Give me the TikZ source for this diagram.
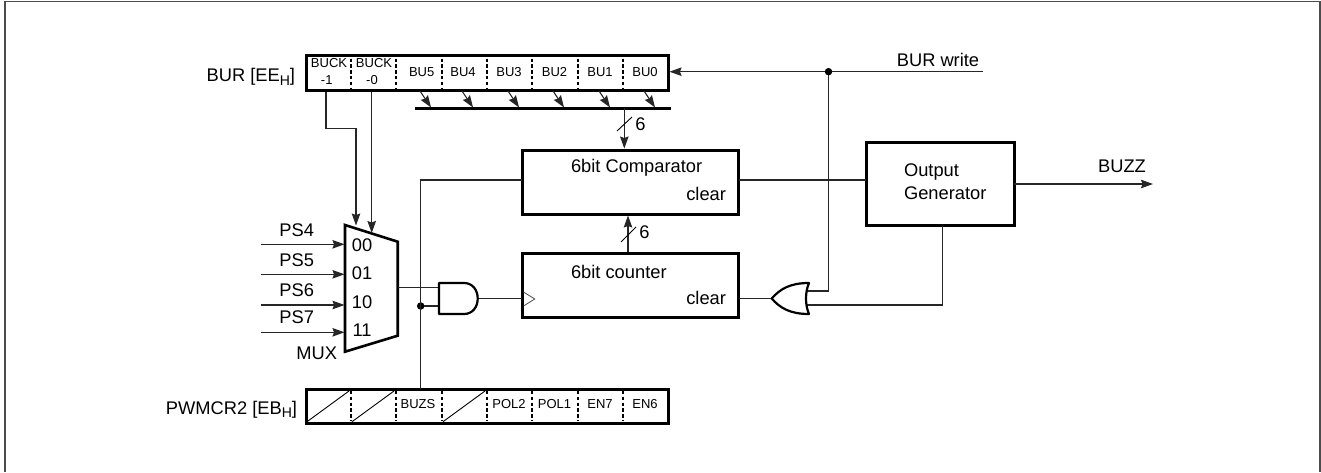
\documentclass[tikz,border=0pt]{standalone}
\usepackage{fontspec}
\setmainfont{Liberation Sans}
\usetikzlibrary{arrows.meta}
\tikzset{
  lab/.style={inner sep=0pt,outer sep=0pt,font=\fontsize{18.3}{21}\selectfont},
  reg/.style={inner sep=0pt,outer sep=0pt,font=\fontsize{13}{15}\selectfont},
  bigbox/.style={draw=black,line width=3pt,fill=white,inner sep=0pt,outer sep=0pt},
  sep/.style={line width=2pt,dash pattern=on 3.4pt off 2.4pt},
  wire/.style={line width=1.1pt,draw=black!85},
  arr/.style={wire,-{Stealth[length=12pt,width=8.5pt,inset=1.5pt]}},
  bar/.style={line width=0.9pt},
  gate/.style={draw=black,line width=2.2pt,fill=white,line join=round},
  dot/.style={circle,fill=black,minimum size=7.5pt,inner sep=0pt,outer sep=0pt},
}
\newcommand{\subH}{\raisebox{-3.5pt}{\fontsize{14}{14}\selectfont H}}
\begin{document}
\begin{tikzpicture}[x=1pt,y=-1pt]
\useasboundingbox (0,0) rectangle (1321,472);
\draw[line width=1.5pt,draw=black!70] (5,472) -- (5,1.7) -- (1320,1.7) -- (1320,472);

% registers
\node[bigbox,minimum width=362pt,minimum height=35pt] (bur) at (487,73.3) {};
\node[bigbox,minimum width=362pt,minimum height=34pt] (pwm) at (487,406) {};
\foreach \x in {351,396,441.7,486.7,532,578,622.7}{
  \draw[sep] (\x,58.5) -- (\x,89);
  \draw[sep] (\x,391) -- (\x,421);
}
\foreach \a/\b in {307/349,352/394,443/485}{
  \draw[bar] (\a,421.7) -- (\b,391);
}
\node[reg] (lb1) at (329,63) {BUCK};
\node[reg] (lb2) at (326.7,80) {-1};
\node[reg] (lb3) at (374,63) {BUCK};
\node[reg] (lb4) at (372,80) {-0};
\node[reg] (lb5) at (421.7,71.7) {BU5};
\node[reg] (lb6) at (463,71.7) {BU4};
\node[reg] (lb7) at (509,71.7) {BU3};
\node[reg] (lb8) at (554.5,71.7) {BU2};
\node[reg] (lb9) at (600,71.7) {BU1};
\node[reg] (lb10) at (645,71.7) {BU0};
\node[reg] (lp1) at (418,404.5) {BUZS};
\node[reg] (lp2) at (509,404.5) {POL2};
\node[reg] (lp3) at (554.5,404.5) {POL1};
\node[reg] (lp4) at (600,404.5) {EN7};
\node[reg] (lp5) at (645,404.5) {EN6};
\node[lab,anchor=base east] (burlab) at (295,81.5) {BUR [EE\subH]};
\node[lab,anchor=base east] (pwmlab) at (297,414) {PWMCR2 [EB\subH]};

% bus
\coordinate (busl) at (415,108.3);
\coordinate (busr) at (671,108.3);
\draw[line width=2.4pt] (busl) -- (busr);
\foreach \x in {420,462,508,553,599,644}{
  \draw[arr] (\x,91) -- (\x+11,107.5);
}

% main boxes
\node[bigbox,minimum width=216.5pt,minimum height=64pt] (cmp) at (630.3,182) {};
\node[bigbox,minimum width=216.5pt,minimum height=64pt] (cnt) at (630.3,285) {};
\node[bigbox,minimum width=148pt,minimum height=83.5pt] (og) at (940,184) {};
\node[lab,anchor=west] (t1) at (571,168) {6bit Comparator};
\node[lab,anchor=east] (t2) at (726,194) {clear};
\node[lab,anchor=west] (t3) at (571,272) {6bit counter};
\node[lab,anchor=east] (t4) at (726,298) {clear};
\node[lab,anchor=west] (t5) at (904,172) {Output};
\node[lab,anchor=west] (t6) at (904,193) {Generator};
\draw[line width=0.8pt,draw=black!70] (523.5,292) -- (534.7,299) -- (523.5,306);

% bus to comparator, counter to comparator
\coordinate (bus6) at (624.3,108.3);
\coordinate (cmpn) at (624.3,148.5);
\coordinate (cnt6) at (628,251.5);
\coordinate (cmp6) at (628,215.5);
\draw[arr] (bus6) -- (cmpn);
\draw[arr] (cnt6) -- (cmp6);
\draw[bar] (617,131) -- (632,117);
\draw[bar] (621,242) -- (636,227);
\node[lab] (n6a) at (640.5,124.5) {6};
\node[lab] (n6b) at (644.5,232) {6};

% MUX
\coordinate (m1) at (345,225);
\coordinate (m2) at (397.7,241.7);
\coordinate (m3) at (397.7,335.7);
\coordinate (m4) at (345,351.7);
\draw[gate,line width=2.6pt,line join=miter] (m1) -- (m2) -- (m3) -- (m4) -- cycle;
\node[lab] (s0) at (362,245) {00};
\node[lab] (s1) at (362,273) {01};
\node[lab] (s2) at (362,302) {10};
\node[lab] (s3) at (362,330) {11};
\node[lab] (mux) at (316.7,353) {MUX};
\foreach \y/\ly/\t in {244.3/230/PS4,274.3/260/PS5,305/290/PS6,332.3/317/PS7}{
  \draw[arr] (261,\y) -- (344.5,\y);
  \node[lab] at (296.7,\ly) {\t};
}

% BUCK selects
\coordinate (bk1) at (326,92);
\coordinate (bk1a) at (326,128.7);
\coordinate (bk1b) at (356,128.7);
\coordinate (bk1c) at (356,225.5);
\coordinate (bk2) at (371.7,92);
\coordinate (bk2c) at (371.7,233);
\draw[arr] (bk1) -- (bk1a) -- (bk1b) -- (bk1c);
\draw[arr] (bk2) -- (bk2c);

% AND gate
\coordinate (ai1) at (439,287.7);
\coordinate (ai2) at (439,306);
\coordinate (ao) at (477.7,298.7);
\coordinate (muxo) at (397.7,287.7);
\node[dot] (jn) at (420.7,306) {};
\coordinate (buzs) at (420.7,389);
\coordinate (cl) at (420.7,180);
\coordinate (cmpw) at (522,180);
\coordinate (cntw) at (522,298.7);
\draw[wire] (buzs) -- (cl) -- (cmpw);
\draw[wire] (muxo) -- (ai1);
\draw[wire] (jn) -- (ai2);
\draw[wire] (ao) -- (cntw);
\draw[gate] (439,283) -- (464,283) .. controls (472.5,283) and (477.7,290) .. (477.7,298.5)
  .. controls (477.7,307) and (472.5,314) .. (464,314) -- (439,314) -- cycle;

% right side
\coordinate (cmpe) at (738.8,180);
\coordinate (ogw) at (866,180);
\draw[wire] (cmpe) -- (ogw);
\coordinate (oge) at (1014,184);
\coordinate (buzzend) at (1153,184);
\draw[arr] (oge) -- (buzzend);
\node[lab] (buzz) at (1122,166) {BUZZ};

\coordinate (wstart) at (983,71.7);
\coordinate (burin) at (669.5,71.7);
\draw[arr] (wstart) -- (burin);
\node[lab] (bw) at (938,60) {BUR write};
\node[dot] (jw) at (828.5,71.7) {};
\coordinate (or1a) at (828.5,291);
\coordinate (or1) at (807,291);
\draw[wire] (jw) -- (or1a) -- (or1);
\coordinate (ogs) at (942.5,226);
\coordinate (or2a) at (942.5,305);
\coordinate (or2) at (807,305);
\draw[wire] (ogs) -- (or2a) -- (or2);

% OR gate
\coordinate (oro) at (771.7,298.5);
\coordinate (cnte) at (738.8,298.5);
\draw[wire] (cnte) -- (oro);
\draw[gate] (809,283) .. controls (805,292) and (805,305) .. (809,314)
  .. controls (790,314) and (780,308) .. (771.7,298.5)
  .. controls (780,289) and (790,283) .. (809,283) -- cycle;
\end{tikzpicture}
\end{document}
